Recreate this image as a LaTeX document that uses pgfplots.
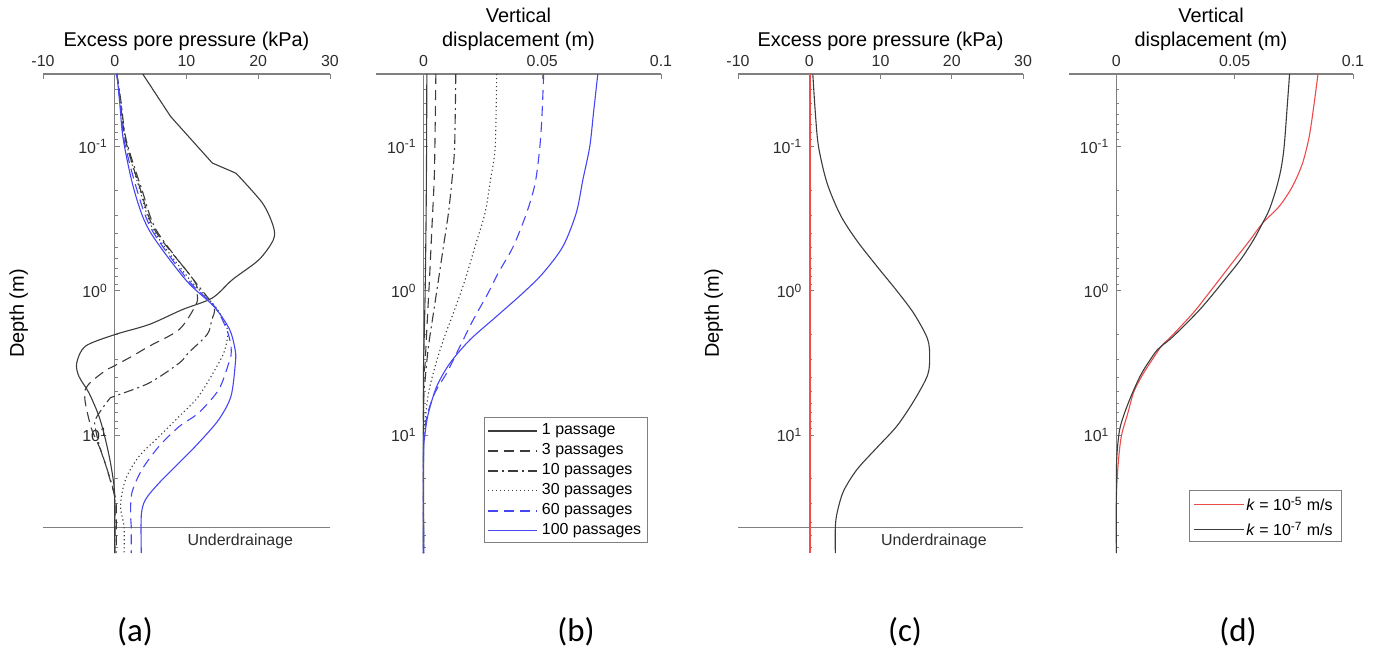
\documentclass[border=0pt]{standalone}
\usepackage{fontspec}
\setmainfont{Liberation Sans}
\newfontfamily\calib{Carlito}
\usepackage{pgfplots}
\pgfplotsset{compat=1.18}

\definecolor{crvgray}{RGB}{60,60,60}
\definecolor{crvblue}{RGB}{70,70,245}
\definecolor{crvred}{RGB}{235,75,75}
\definecolor{axgray}{RGB}{128,128,128}
\definecolor{txt}{RGB}{45,45,45}

% common settings for all four depth profiles
\pgfplotsset{
  scale only axis, height=239.5bp,
  ymin=0.0314, ymax=65.6,
  axis line style={axgray, line width=0.6bp},
  tick style={axgray, line width=0.5bp},
  major tick length=2.4bp, minor tick length=1.4bp,
  ytick={0.1,1,10},
  yticklabels={10\textsuperscript{-1},10\textsuperscript{0},10\textsuperscript{1}},
  minor ytick={0.04,0.05,0.06,0.07,0.08,0.09,0.2,0.3,0.4,0.5,0.6,0.7,0.8,0.9,2,3,4,5,6,7,8,9,20,30,40,50,60},
  tick label style={font=\fontsize{8}{9}\selectfont, text=txt},
  label style={font=\fontsize{9}{11}\selectfont, text=txt},
  clip=false,
  every axis plot/.append style={line width=0.55bp},
}
\tikzset{
  sty1/.style={draw=crvgray},
  sty3/.style={draw=crvgray, dash pattern=on 5bp off 3bp},
  sty10/.style={draw=crvgray, dash pattern=on 5bp off 2bp on 1bp off 2bp},
  sty30/.style={draw=crvgray, dash pattern=on 0.6bp off 1.4bp},
  sty60/.style={draw=crvblue, dash pattern=on 5bp off 3bp},
  sty100/.style={draw=crvblue},
  legtxt/.style={anchor=west, inner sep=0pt, font=\fontsize{8}{9}\selectfont, text=black},
}

\begin{document}
\begin{tikzpicture}
\path[use as bounding box] (0,0) rectangle (687.5bp,-326.5bp);

% (a) excess pore pressure, number of passages
\begin{axis}[width=143.5bp, at={(21.5bp,-37bp)}, anchor=north west,
  ymode=log, y dir=reverse, axis x line=top, axis y line=center,
  every inner x axis line/.append style={-}, every outer x axis line/.append style={-},
  every inner y axis line/.append style={-}, every outer y axis line/.append style={-},
  tick align=inside, xlabel style={align=center, yshift=-4.5bp},
  xmin=-10, xmax=30, xtick={-10,0,10,20,30}, xticklabels={-10,0,10,20,30},
  xlabel={Excess pore pressure (kPa)}, ylabel={Depth (m)},
  ylabel style={at={(axis description cs:-0.085,0.5)}, rotate=90, anchor=center}]
\addplot[axgray, line width=0.5bp] coordinates {(-10,43.6) (30,43.6)};
\addplot[sty1] coordinates {(3.9,0.0314) (7.8,0.062) (13.6,0.130) (16.9,0.153)};
\addplot[sty1, smooth] coordinates {
  (16.9,0.153) (20.6,0.247) (22.1,0.358)
  (22.1,0.443) (20.1,0.608) (16.4,0.836) (13.6,1.12) (9.4,1.35) (4.8,1.71)
  (0,2.01) (-4.1,2.42) (-5.3,3.16) (-5.0,3.91) (-3.6,5.09) (-2.2,7.39)
  (-1.3,10.7) (-0.6,15.5) (-0.1,22.5) (0,30) (0,65.6)};
\addplot[sty3, smooth] coordinates {
  (0.3,0.0314) (0.8,0.05) (1.5,0.09) (3.6,0.2) (5.6,0.38) (11.0,0.84) (11.5,1.06)
  (11.3,1.25) (9.0,1.85) (4.8,2.42) (2.4,2.84) (0,3.3) (-1.1,3.51) (-3.2,4.23)
  (-4.1,4.83) (-4.1,5.97) (-3.2,9.15) (-1.8,13.3) (-0.4,22.5) (0.2,30) (0.2,65.6)};
\addplot[sty10, smooth] coordinates {
  (0.3,0.0314) (0.9,0.05) (1.6,0.09) (3.8,0.2) (5.8,0.38) (11.0,0.84) (13.8,1.28)
  (13.5,1.6) (12.9,2.0) (10.3,2.68) (9.0,3.16) (4.8,4.35) (0,5.37) (-0.8,5.66)
  (-2.7,7.8) (-2.6,9.5) (-2.0,12.5) (-0.8,19) (0,28) (0,65.6)};
\addplot[sty30, smooth] coordinates {
  (0.3,0.0314) (0.85,0.05) (1.5,0.09) (3.5,0.2) (5.4,0.38) (10.5,0.84) (14.0,1.28)
  (15.7,1.85) (15.4,2.5) (14.5,3.16) (11.7,5.37) (9.0,7.39) (6.2,10.2) (3.4,14.0)
  (1.5,20.3) (0.8,30.9) (1.3,43) (1.3,65.6)};
\addplot[sty60, smooth] coordinates {
  (0.3,0.0314) (0.75,0.05) (1.3,0.09) (3.1,0.2) (5.2,0.38) (10.2,0.84) (13.9,1.28)
  (15.6,1.85) (16.2,2.4) (16.2,2.8) (15.9,3.16) (14.5,4.83) (11.7,7.0) (9.0,8.7)
  (6.2,11.9) (3.8,17.3) (2.4,25) (2.2,36) (2.3,43) (2.3,65.6)};
\addplot[sty100, smooth] coordinates {
  (0.3,0.0314) (0.7,0.05) (1.2,0.09) (2.7,0.2) (4.8,0.38) (9.9,0.84) (13.8,1.28)
  (16.0,1.85) (16.8,2.6) (16.8,3.2) (16.2,5.37) (14.5,7.8) (11.7,11.3) (9.0,15.5)
  (6.2,21.4) (4.3,27.9) (3.7,36) (3.7,65.6)};
\node[font=\fontsize{8}{9}\selectfont, text=txt] at (axis cs:17.5,54.7) {Underdrainage};
\end{axis}

% (b) vertical displacement, number of passages
\begin{axis}[width=142.5bp, at={(188bp,-37bp)}, anchor=north west,
  ymode=log, y dir=reverse, axis x line=top, axis y line=center,
  every inner x axis line/.append style={-}, every outer x axis line/.append style={-},
  every inner y axis line/.append style={-}, every outer y axis line/.append style={-},
  tick align=inside, xlabel style={align=center, yshift=-4.5bp},
  xmin=-0.02, xmax=0.1, xtick={0,0.05,0.1}, xticklabels={0,0.05,0.1},
  xlabel={Vertical\\displacement (m)}]
\addplot[sty1, smooth] coordinates {
  (0.0014,0.0314) (0.0013,0.1) (0.0011,0.3) (0.0007,1.0) (0.0002,2.5) (0,4) (0,65.6)};
\addplot[sty3, smooth] coordinates {
  (0.0052,0.0314) (0.0048,0.1) (0.0045,0.17) (0.0035,0.378) (0.0025,0.84)
  (0.0014,1.85) (0.0007,3.16) (0,5) (0,65.6)};
\addplot[sty10, smooth] coordinates {
  (0.0136,0.0314) (0.0131,0.1) (0.0120,0.17) (0.0105,0.289) (0.0084,0.492)
  (0.0063,0.84) (0.0042,1.42) (0.0021,2.42) (0.0007,4.1) (0,6.5) (0,65.6)};
\addplot[sty30, smooth] coordinates {
  (0.0308,0.0314) (0.0302,0.1) (0.0282,0.17) (0.0259,0.289) (0.0217,0.492)
  (0.0175,0.84) (0.0126,1.42) (0.0084,2.18) (0.0049,3.33) (0.0021,5.1)
  (0.0007,8) (0,11) (0,65.6)};
\addplot[sty60, smooth] coordinates {
  (0.0506,0.0314) (0.0499,0.06) (0.0490,0.1) (0.0470,0.18) (0.0434,0.289)
  (0.0378,0.492) (0.0315,0.751) (0.0273,1.03) (0.0210,1.58) (0.0154,2.42)
  (0.0098,3.7) (0.0050,5.0) (0.0018,7) (0.0006,9) (0,12) (0,65.6)};
\addplot[sty100, smooth] coordinates {
  (0.0734,0.0314) (0.0716,0.058) (0.0700,0.1) (0.0671,0.17) (0.0643,0.289)
  (0.0587,0.492) (0.0504,0.751) (0.0420,1.03) (0.0308,1.50) (0.0196,2.18)
  (0.0112,3.16) (0.0056,4.58) (0.0021,7.0) (0.0007,9.6) (0,14) (0,65.6)};
% legend
\draw[axgray, line width=0.5bp, fill=white]
  (axis description cs:0.379,0.021) rectangle (axis description cs:0.951,0.282);
\draw[sty1, line width=0.55bp] (axis description cs:0.394,0.2547) -- (axis description cs:0.564,0.2547);
\node[legtxt] at (axis description cs:0.581,0.2547) {1 passage};
\draw[sty3, line width=0.55bp] (axis description cs:0.394,0.2129) -- (axis description cs:0.564,0.2129);
\node[legtxt] at (axis description cs:0.581,0.2129) {3 passages};
\draw[sty10, line width=0.55bp] (axis description cs:0.394,0.1712) -- (axis description cs:0.564,0.1712);
\node[legtxt] at (axis description cs:0.581,0.1712) {10 passages};
\draw[sty30, line width=0.55bp] (axis description cs:0.394,0.1301) -- (axis description cs:0.564,0.1301);
\node[legtxt] at (axis description cs:0.581,0.1301) {30 passages};
\draw[sty60, line width=0.55bp] (axis description cs:0.394,0.0877) -- (axis description cs:0.564,0.0877);
\node[legtxt] at (axis description cs:0.581,0.0877) {60 passages};
\draw[sty100, line width=0.55bp] (axis description cs:0.394,0.0466) -- (axis description cs:0.564,0.0466);
\node[legtxt] at (axis description cs:0.581,0.0466) {100 passages};
\end{axis}

% (c) excess pore pressure, permeability
\begin{axis}[width=142.5bp, at={(369bp,-37bp)}, anchor=north west,
  ymode=log, y dir=reverse, axis x line=top, axis y line=center,
  every inner x axis line/.append style={-}, every outer x axis line/.append style={-},
  every inner y axis line/.append style={-}, every outer y axis line/.append style={-},
  tick align=inside, xlabel style={align=center, yshift=-4.5bp},
  xmin=-10, xmax=30, xtick={-10,0,10,20,30}, xticklabels={-10,0,10,20,30},
  xlabel={Excess pore pressure (kPa)}, ylabel={Depth (m)},
  ylabel style={at={(axis description cs:-0.085,0.5)}, rotate=90, anchor=center}]
\addplot[axgray, line width=0.5bp] coordinates {(-10,43.6) (30,43.6)};
\addplot[sty1, smooth] coordinates {
  (0.5,0.0314) (0.85,0.058) (1.3,0.1) (2.5,0.179) (4.4,0.30) (6.7,0.45) (9.5,0.676)
  (12.3,1.0) (14.7,1.44) (16.6,2.15) (16.9,2.88) (16.6,3.85) (14.7,5.77) (12.3,8.65)
  (9.5,12.2) (6.7,17.3) (4.8,24.5) (3.9,34.7) (3.66,44) (3.66,65.6)};
\addplot[draw=crvred, line width=0.8bp] coordinates {(0.15,0.0314) (0.15,65.6)};
\node[font=\fontsize{8}{9}\selectfont, text=txt] at (axis cs:17.5,54.7) {Underdrainage};
\end{axis}

% (d) vertical displacement, permeability
\begin{axis}[width=142bp, at={(534.5bp,-37bp)}, anchor=north west,
  ymode=log, y dir=reverse, axis x line=top, axis y line=center,
  every inner x axis line/.append style={-}, every outer x axis line/.append style={-},
  every inner y axis line/.append style={-}, every outer y axis line/.append style={-},
  tick align=inside, xlabel style={align=center, yshift=-4.5bp},
  xmin=-0.02, xmax=0.1, xtick={0,0.05,0.1}, xticklabels={0,0.05,0.1},
  xlabel={Vertical\\displacement (m)}]
\addplot[draw=crvred, smooth] coordinates {
  (0.0852,0.0314) (0.0836,0.05) (0.0815,0.085) (0.0787,0.13) (0.0744,0.189)
  (0.0688,0.26) (0.0618,0.339) (0.0566,0.442) (0.0500,0.608) (0.0435,0.836)
  (0.0375,1.12) (0.0325,1.42) (0.0232,2.07) (0.0190,2.42) (0.0125,3.5)
  (0.0100,4.1) (0.0072,5.1) (0.0049,7.0) (0.0021,10.2) (0.0007,16.4) (0,28) (0,65.6)};
\addplot[sty1, smooth] coordinates {
  (0.0732,0.0314) (0.0723,0.05) (0.0709,0.1) (0.0695,0.145) (0.0674,0.2)
  (0.0646,0.274) (0.0618,0.339) (0.0580,0.442) (0.0525,0.608) (0.0458,0.836)
  (0.0395,1.12) (0.0340,1.42) (0.0240,2.07) (0.0190,2.42) (0.0163,2.69)
  (0.0108,3.7) (0.0068,5.1) (0.0035,7.0) (0.0014,9.15) (0.0003,13.3) (0,20) (0,65.6)};
% legend
\draw[axgray, line width=0.5bp, fill=white]
  (axis description cs:0.4225,0.024) rectangle (axis description cs:0.9577,0.1315);
\draw[draw=crvred, line width=0.55bp] (axis description cs:0.440,0.102) -- (axis description cs:0.616,0.102);
\node[legtxt] at (axis description cs:0.623,0.102) {\textit{k} = 10\textsuperscript{-5} m/s};
\draw[sty1, line width=0.55bp] (axis description cs:0.440,0.050) -- (axis description cs:0.616,0.050);
\node[legtxt] at (axis description cs:0.623,0.050) {\textit{k} = 10\textsuperscript{-7} m/s};
\end{axis}

\node[font=\calib\fontsize{16.5}{18}\selectfont] at (67.5bp,-316bp) {(a)};
\node[font=\calib\fontsize{16.5}{18}\selectfont] at (288bp,-316bp) {(b)};
\node[font=\calib\fontsize{16.5}{18}\selectfont] at (452.5bp,-316bp) {(c)};
\node[font=\calib\fontsize{16.5}{18}\selectfont] at (619bp,-316bp) {(d)};
\end{tikzpicture}
\end{document}
